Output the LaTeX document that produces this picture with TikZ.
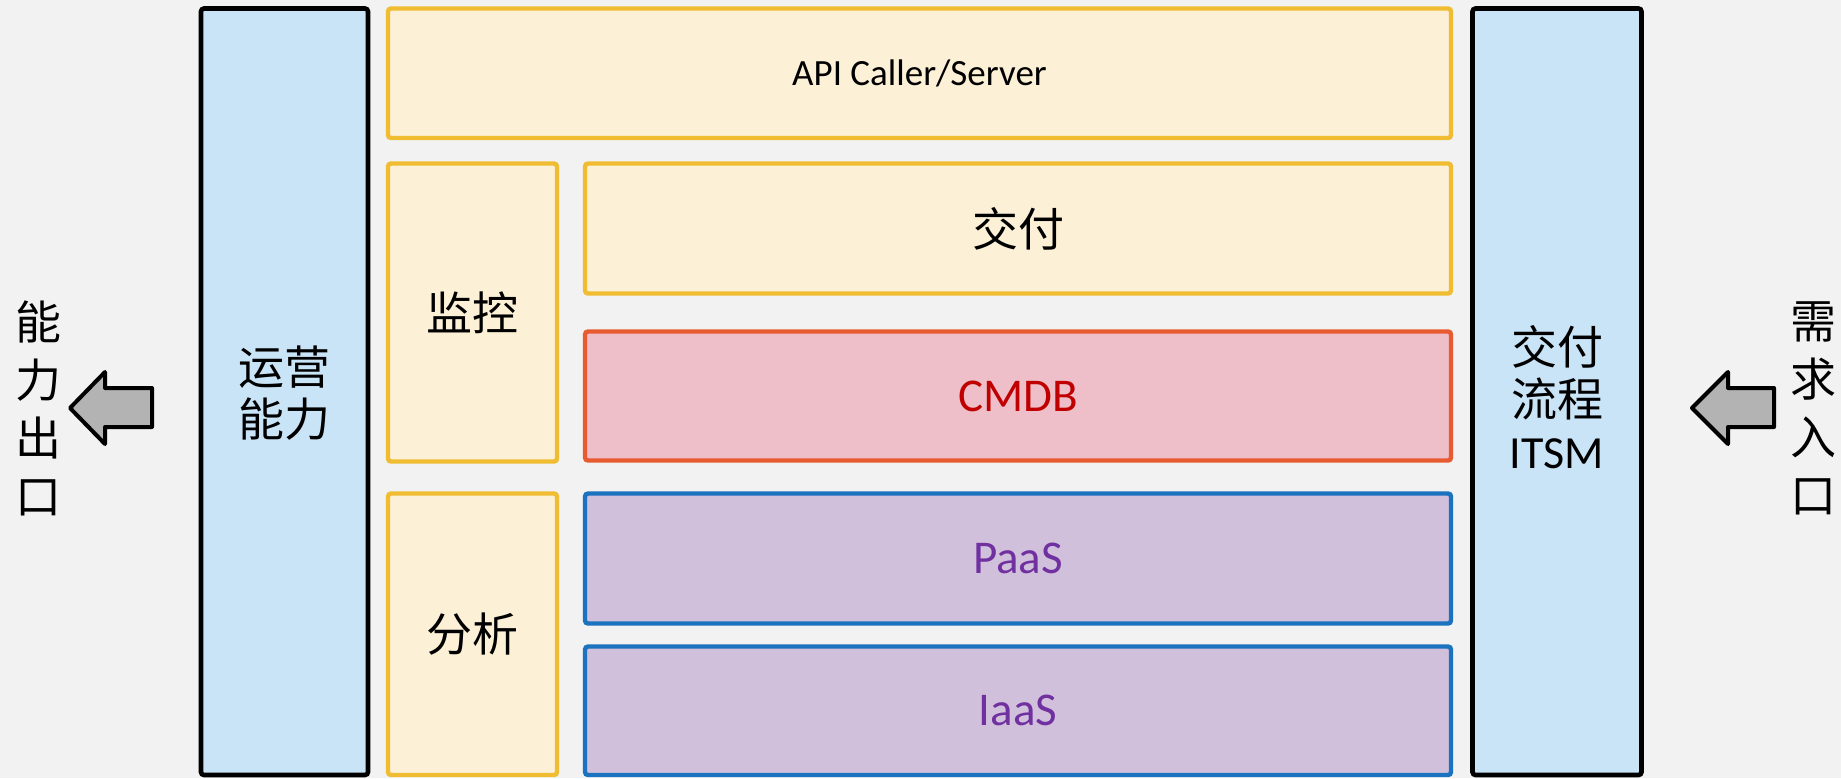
\documentclass[tikz,border=0pt]{standalone}
\usepackage{fontspec}
\setmainfont{Carlito}
\newfontfamily\cjk{Noto Sans CJK SC}
\definecolor{bg}{HTML}{F2F2F2}
\definecolor{bluefill}{HTML}{C9E3F7}
\definecolor{yelfill}{HTML}{FCF0D6}
\definecolor{yelline}{HTML}{F0BC31}
\definecolor{redfill}{HTML}{EEBFC8}
\definecolor{redline}{HTML}{E85A30}
\definecolor{redtext}{HTML}{C00000}
\definecolor{purfill}{HTML}{D1C0DC}
\definecolor{purline}{HTML}{1B72BE}
\definecolor{purtext}{HTML}{7030A0}
\definecolor{arrowfill}{HTML}{B3B3B3}
\tikzset{
  base/.style={rectangle, inner sep=0pt, outer sep=0pt, rounded corners=1.5pt, align=center},
  bluebox/.style={base, draw=black, fill=bluefill, line width=2.3pt, font=\fontsize{23}{26}\selectfont},
  yelbox/.style={base, draw=yelline, fill=yelfill, line width=2.2pt, font=\fontsize{23.5}{28}\selectfont},
  redbox/.style={base, draw=redline, fill=redfill, line width=2.2pt, text=redtext, font=\fontsize{23.5}{28}\selectfont},
  purbox/.style={base, draw=purline, fill=purfill, line width=2.2pt, text=purtext, font=\fontsize{23.5}{28}\selectfont},
  sidetext/.style={inner sep=0pt, align=center, font=\cjk\fontsize{23}{29}\selectfont},
  blockarrow/.style={draw=black, fill=arrowfill, line width=2pt, line join=round}
}
\begin{document}
\begin{tikzpicture}[x=0.5pt, y=-0.5pt]
\fill[bg] (0,0) rectangle (1841,778);
\useasboundingbox (0,0) rectangle (1841,778);

\node[bluebox, minimum width=83.5pt, minimum height=383.25pt] (ops) at (284.5,391.75) {};
\node[font=\cjk\fontsize{23}{26}\selectfont, align=center, inner sep=0pt] (opst) at (284.5,393) {运营\\能力};

\node[bluebox, minimum width=84.5pt, minimum height=383.25pt] (flow) at (1557,391.75) {};
\node[font=\fontsize{23}{26}\selectfont, align=center, inner sep=0pt] (flowt) at (1557,397) {{\cjk\fontsize{23}{26}\selectfont 交付}\\{\cjk\fontsize{23}{26}\selectfont 流程}\\ITSM};

\node[yelbox, minimum width=531.5pt, minimum height=64.75pt, font=\fontsize{18.5}{22}\selectfont] (api) at (919.5,73.25) {API Caller/Server};

\node[yelbox, minimum width=84.5pt, minimum height=149pt, font=\cjk\fontsize{23}{28}\selectfont] (mon) at (472.5,312.5) {监控};
\node[yelbox, minimum width=84.5pt, minimum height=140.75pt, font=\cjk\fontsize{23}{28}\selectfont] (ana) at (472.5,634.25) {分析};

\node[yelbox, minimum width=433pt, minimum height=65pt, font=\cjk\fontsize{23}{28}\selectfont] (del) at (1018,228.5) {交付};
\node[redbox, minimum width=433pt, minimum height=64.5pt] (cmdb) at (1018,396) {CMDB};
\node[purbox, minimum width=433pt, minimum height=65pt] (paas) at (1018,558.5) {PaaS};
\node[purbox, minimum width=433pt, minimum height=64.25pt] (iaas) at (1018,710.75) {IaaS};

\node[sidetext] (out) at (38,408) {能\\力\\出\\口};
\node[sidetext] (in) at (1813,408) {需\\求\\入\\口};

\draw[blockarrow] (152,388) -- (105,388) -- (105,372) -- (70,408) -- (105,444) -- (105,427) -- (152,427) -- cycle;
\draw[blockarrow] (1774,388) -- (1728,388) -- (1728,372) -- (1692,408) -- (1728,444) -- (1728,427) -- (1774,427) -- cycle;
\end{tikzpicture}
\end{document}
